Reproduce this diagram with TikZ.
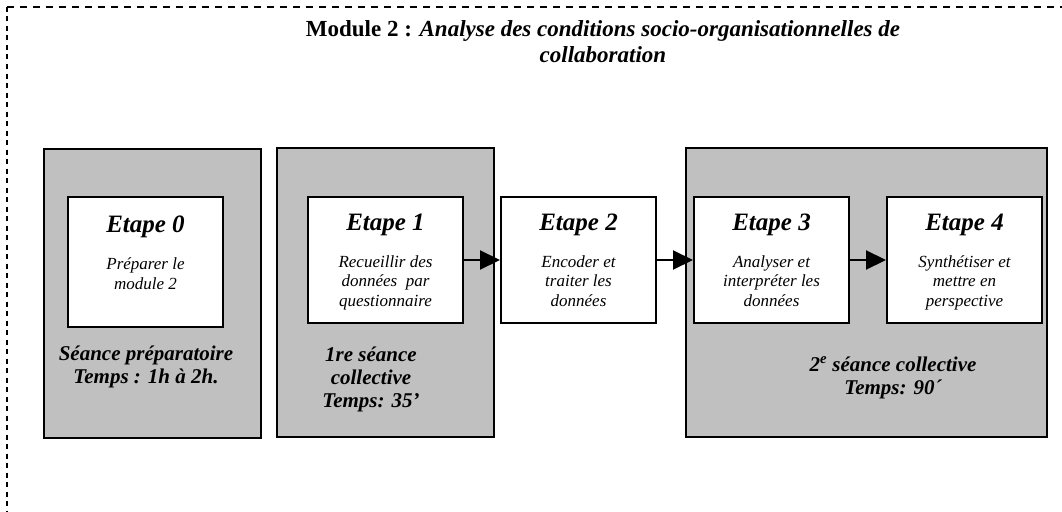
\documentclass[tikz,border=0pt]{standalone}
\usepackage{fontspec}
\setmainfont{Liberation Serif}
\usetikzlibrary{arrows.meta}
\definecolor{panelgray}{HTML}{C0C0C0}
\begin{document}
\begin{tikzpicture}[x=1pt,y=-1pt,
  panel/.style={draw=black, line width=2pt, fill=panelgray, inner sep=0pt},
  stepbox/.style={draw=black, line width=2pt, fill=white, inner sep=0pt},
  heading/.style={anchor=base, inner sep=0pt, font=\fontsize{25}{28}\selectfont\bfseries\itshape},
  body/.style={anchor=base, inner sep=0pt, align=center, font=\fontsize{17}{19.5}\selectfont\itshape},
  session/.style={anchor=base, inner sep=0pt, align=center, font=\fontsize{21}{23}\selectfont\bfseries\itshape},
  flow/.style={line width=2pt, -{Triangle[length=20pt,width=19pt]}},
  frameh/.style={line width=1.5pt, dash pattern=on 7pt off 6pt},
  framev/.style={line width=1.5pt, dash pattern=on 5pt off 4.5pt}]
\useasboundingbox (0,0) rectangle (1062,511);

% dashed frame: top and left sides
\coordinate (fc) at (7,7);
\coordinate (fr) at (1062,7);
\coordinate (fb) at (7,511);
\draw[frameh] (fc) -- (fr);
\draw[framev] (fc) -- (fb);

% title (multi-line nodes sit on the baseline of their last line)
\node[anchor=base, inner sep=0pt, align=center,
      font=\fontsize{23}{26}\selectfont\bfseries] (title) at (603,63)
  {Module 2 : \textit{Analyse des conditions socio-organisationnelles de}\\
   \textit{collaboration}};

% session panels
\node[panel, minimum width=217pt, minimum height=289pt] (g0) at (152.5,293.5) {};
\node[panel, minimum width=217pt, minimum height=289pt] (g1) at (385.5,292.5) {};
\node[panel, minimum width=361pt, minimum height=289pt] (g2) at (866.5,292.5) {};

% step boxes
\node[stepbox, minimum width=155pt, minimum height=130pt] (e0) at (145.5,262) {};
\node[stepbox, minimum width=155pt, minimum height=126pt] (e1) at (385.5,260) {};
\node[stepbox, minimum width=155pt, minimum height=126pt] (e2) at (578.5,260) {};
\node[stepbox, minimum width=155pt, minimum height=126pt] (e3) at (771.5,260) {};
\node[stepbox, minimum width=155pt, minimum height=126pt] (e4) at (964.5,260) {};

% step headings
\node[heading] (h0) at (145.5,232) {Etape 0};
\node[heading] (h1) at (385.5,230) {Etape 1};
\node[heading] (h2) at (578.5,230) {Etape 2};
\node[heading] (h3) at (771.5,230) {Etape 3};
\node[heading] (h4) at (964.5,230) {Etape 4};

% step descriptions
\node[body] (t0) at (145.5,289) {Préparer le\\module 2};
\node[body] (t1) at (385.5,306) {Recueillir des\\données~ par\\questionnaire};
\node[body] (t2) at (578.5,306) {Encoder et\\traiter les\\données};
\node[body] (t3) at (771.5,306) {Analyser et\\interpréter les\\données};
\node[body] (t4) at (964.5,306) {Synthétiser et\\mettre en\\perspective};

% session captions
\node[session] (s0) at (146,383) {Séance préparatoire\\Temps : 1h à 2h.};
\node[session] (s1) at (371,407) {1re séance\\collective\\Temps: 35’};
\node[session] (s2) at (893,394) {2\textsuperscript{e} séance collective\\Temps: 90´};

% flow between steps
\draw[flow] (e1.east) -- (e2.west);
\draw[flow] (e2.east) -- (e3.west);
\draw[flow] (e3.east) -- (e4.west);
\end{tikzpicture}
\end{document}
